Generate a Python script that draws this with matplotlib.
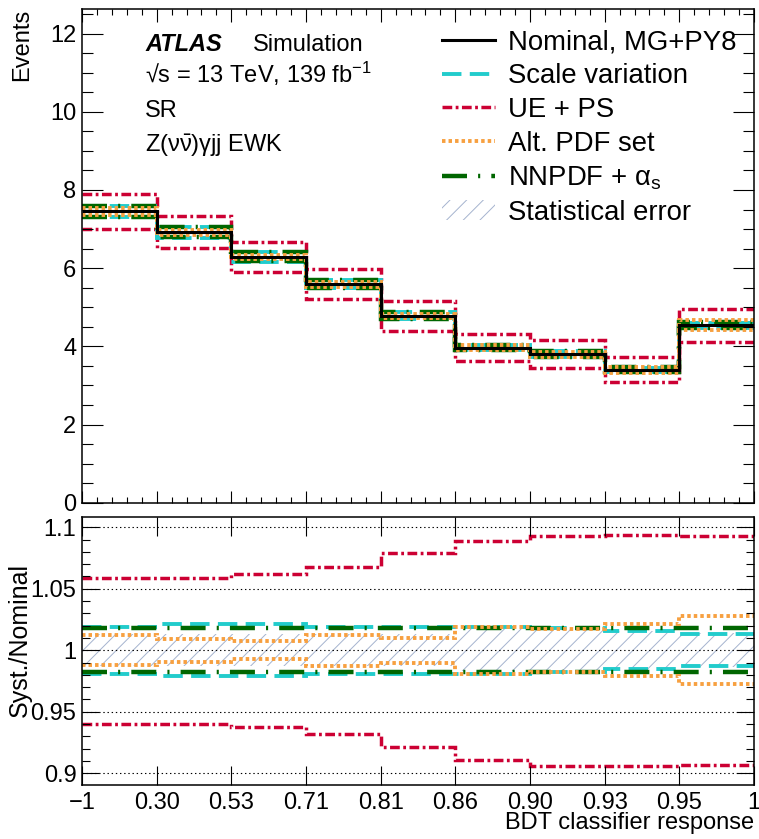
import numpy as np
import matplotlib
matplotlib.use('Agg')
import matplotlib.pyplot as plt
from matplotlib.lines import Line2D
from matplotlib.patches import Patch
from matplotlib.ticker import MultipleLocator, FixedLocator, NullLocator

plt.rcParams['font.family'] = ['Liberation Sans', 'DejaVu Sans']
plt.rcParams['mathtext.fontset'] = 'custom'
plt.rcParams['mathtext.rm'] = 'Liberation Sans'
plt.rcParams['mathtext.it'] = 'Liberation Sans:italic'
plt.rcParams['mathtext.bf'] = 'Liberation Sans:bold'
plt.rcParams['lines.scale_dashes'] = False
plt.rcParams['hatch.linewidth'] = 0.7

# bin edges of the BDT response (drawn equally spaced)
edge_labels = ['\u22121', '0.30', '0.53', '0.71', '0.81', '0.86', '0.90', '0.93', '0.95', '1']

# nominal prediction per bin
nominal = [7.45, 6.92, 6.29, 5.59, 4.78, 3.97, 3.80, 3.40, 4.54]

# syst./nominal ratios, up and down
scale_up = [1.019, 1.021, 1.021, 1.019, 1.019, 1.019, 1.018, 1.016, 1.013]
scale_dn = [0.981, 0.979, 0.979, 0.981, 0.981, 0.981, 0.982, 0.985, 0.987]
ueps_up = [1.059, 1.059, 1.062, 1.068, 1.079, 1.089, 1.093, 1.094, 1.093]
ueps_dn = [0.940, 0.940, 0.938, 0.932, 0.921, 0.911, 0.906, 0.906, 0.907]
pdf_up = [1.012, 1.0095, 1.0073, 1.012, 1.0103, 1.019, 1.0176, 1.021, 1.0276]
pdf_dn = [0.988, 0.9905, 0.9932, 0.9873, 0.9897, 0.981, 0.9824, 0.979, 0.9724]
nnpdf_up = [1.018, 1.018, 1.018, 1.018, 1.018, 1.018, 1.018, 1.018, 1.018]
nnpdf_dn = [0.982, 0.982, 0.982, 0.982, 0.982, 0.982, 0.982, 0.982, 0.982]
stat_err = [0.013, 0.013, 0.013, 0.013, 0.013, 0.017, 0.017, 0.016, 0.014]

edges = np.arange(len(edge_labels))
nom = np.array(nominal)

c_scale = '#22cccc'
c_ue = '#cc0033'
c_pdf = '#f7a040'
c_nn = '#006600'
c_stat = '#a5b3cf'

st_scale = dict(color=c_scale, lw=2.8, linestyle=(0, (14, 6)))
st_ue = dict(color=c_ue, lw=2.5, linestyle=(0, (7, 2.5, 2, 2.5)))
st_pdf = dict(color=c_pdf, lw=2.8, linestyle=(0, (2.5, 2.2)))
st_nn = dict(color=c_nn, lw=3.2, linestyle=(0, (18, 8, 1.5, 8)))
st_nom = dict(color='black', lw=2.2, linestyle='-')

fig = plt.figure(figsize=(7.59, 8.39), dpi=100)
ax = fig.add_axes([0.108, 0.4008, 0.8854, 0.5885])
rx = fig.add_axes([0.108, 0.0644, 0.8854, 0.3198])

# upper panel
for up, dn, st in [(ueps_up, ueps_dn, st_ue), (scale_up, scale_dn, st_scale),
                   (nnpdf_up, nnpdf_dn, st_nn), (pdf_up, pdf_dn, st_pdf)]:
    ax.stairs(nom * np.array(up), edges, baseline=None, **st)
    ax.stairs(nom * np.array(dn), edges, baseline=None, **st)
ax.stairs(nom, edges, baseline=None, **st_nom)

ax.set_xlim(0, 9)
ax.set_ylim(0, 12.63)
ax.set_xticks(edges)
ax.set_xticklabels([])
ax.xaxis.set_minor_locator(MultipleLocator(0.2))
ax.yaxis.set_major_locator(MultipleLocator(2))
ax.yaxis.set_minor_locator(MultipleLocator(0.5))
ax.tick_params(which='both', direction='in', top=True, right=True, width=0.8, labelsize=17, pad=4)
ax.tick_params(axis='y', which='major', length=15)
ax.tick_params(axis='y', which='minor', length=8)
ax.tick_params(axis='x', which='major', length=9)
ax.tick_params(axis='x', which='minor', length=4.5)
ax.set_ylabel('Events', fontsize=17, loc='top')
ax.yaxis.set_label_coords(-0.072, 1.0)
ax.yaxis.label.set_va('bottom')

# labels
ax.text(0.094, 0.9155, 'ATLAS', transform=ax.transAxes, fontsize=17,
        fontweight='bold', fontstyle='italic')
ax.text(0.2545, 0.9155, 'Simulation', transform=ax.transAxes, fontsize=17)
ax.text(0.094, 0.8495, '\u221as = 13 TeV, 139 fb$^{-1}$', transform=ax.transAxes, fontsize=17)
ax.text(0.094, 0.7806, 'SR', transform=ax.transAxes, fontsize=17)
ax.text(0.094, 0.711, r'Z($\mathrm{\nu\bar{\nu}}$)$\mathrm{\gamma}$jj EWK',
        transform=ax.transAxes, fontsize=17)

handles = [Line2D([], [], **st_nom), Line2D([], [], **st_scale), Line2D([], [], **st_ue),
           Line2D([], [], **st_pdf), Line2D([], [], **st_nn),
           Patch(facecolor='none', edgecolor=c_stat, hatch='//', linewidth=0)]
labels = ['Nominal, MG+PY8', 'Scale variation', 'UE + PS', 'Alt. PDF set',
          r'NNPDF + $\mathrm{\alpha_s}$', 'Statistical error']
ax.legend(handles, labels, loc='upper left', bbox_to_anchor=(0.536, 0.958), frameon=False,
          fontsize=19.8, handlelength=1.93, handletextpad=0.47, labelspacing=0.28,
          borderpad=0, borderaxespad=0)

# ratio panel
stat = np.array(stat_err)
rx.stairs(1 + stat, edges, baseline=1 - stat, fill=True, facecolor='none',
          edgecolor=c_stat, hatch='//', linewidth=0)
for yv in [0.9, 0.95, 1.0, 1.05, 1.1]:
    rx.axhline(yv, color='black', lw=0.8, linestyle=(0, (1, 2)), zorder=1)
for up, dn, st in [(ueps_up, ueps_dn, st_ue), (scale_up, scale_dn, st_scale),
                   (nnpdf_up, nnpdf_dn, st_nn), (pdf_up, pdf_dn, st_pdf)]:
    rx.stairs(up, edges, baseline=None, **st)
    rx.stairs(dn, edges, baseline=None, **st)

rx.set_xlim(0, 9)
rx.set_ylim(0.8905, 1.1086)
rx.set_xticks(edges)
rx.set_xticklabels(edge_labels)
rx.xaxis.set_minor_locator(NullLocator())
rx.yaxis.set_major_locator(FixedLocator([0.9, 0.95, 1.0, 1.05, 1.1]))
rx.set_yticklabels(['0.9', '0.95', '1', '1.05', '1.1'])
rx.yaxis.set_minor_locator(MultipleLocator(0.01))
rx.tick_params(which='both', direction='in', top=True, right=True, width=0.8, labelsize=17, pad=4)
rx.tick_params(axis='y', which='major', length=12.5)
rx.tick_params(axis='y', which='minor', length=6)
rx.tick_params(axis='x', which='major', length=13.5, pad=5)
rx.set_ylabel('Syst./Nominal', fontsize=18)
rx.yaxis.set_label_coords(-0.074, 0.54)
rx.yaxis.label.set_va('bottom')

fig.text(0.9934, 1 - 829 / 839, 'BDT classifier response', fontsize=17,
         ha='right', va='baseline')

for a in (ax, rx):
    for s in a.spines.values():
        s.set_linewidth(1.1)

fig.savefig('out.png', dpi=100)
